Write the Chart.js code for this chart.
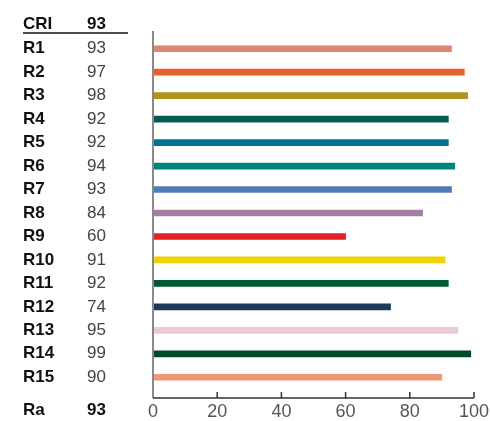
<!DOCTYPE html>
<html>
<head>
<meta charset="utf-8">
<script src="https://cdn.jsdelivr.net/npm/chart.js@4/dist/chart.umd.min.js"></script>
<style>
  html, body { margin: 0; padding: 0; background: #fff; }
  #wrap { width: 490px; height: 421px; position: relative; }
</style>
</head>
<body>
<div id="wrap"><canvas id="cri-chart"></canvas></div>
<script>
// CRI sample values R1..R15
const categories = ['R1', 'R2', 'R3', 'R4', 'R5', 'R6', 'R7', 'R8', 'R9', 'R10', 'R11', 'R12', 'R13', 'R14', 'R15'];
const values = [93, 97, 98, 92, 92, 94, 93, 84, 60, 91, 92, 74, 95, 99, 90];
const barColors = [
  '#dc8573', '#e8612c', '#b0931b', '#055a52', '#00718f',
  '#00847d', '#4e7bb3', '#a57fa3', '#e32227', '#f2d200',
  '#00592f', '#1a3a5c', '#eacad7', '#004a2c', '#f09776',
];
const xTicks = [0, 20, 40, 60, 80, 100];
const criTotal = 93;
const raValue = 93;

const FONT = '"Liberation Sans", Arial, Helvetica, sans-serif';

// draws the left table and the axis lines
const tablePlugin = {
  id: 'criTable',
  afterDraw(chart) {
    const { ctx, chartArea, scales } = chart;
    const xs = scales.x;
    const ys = scales.y;
    const axisY = chartArea.bottom + 9;
    ctx.save();

    // vertical axis line
    ctx.strokeStyle = '#8a8a8a';
    ctx.lineWidth = 2;
    ctx.beginPath();
    ctx.moveTo(chartArea.left, chartArea.top - 6);
    ctx.lineTo(chartArea.left, axisY);
    ctx.stroke();

    // bottom axis line + upward ticks
    ctx.strokeStyle = '#333';
    ctx.lineWidth = 1.5;
    ctx.beginPath();
    ctx.moveTo(chartArea.left, axisY);
    ctx.lineTo(xs.getPixelForValue(100), axisY);
    xTicks.forEach((t) => {
      if (t === 0) return;
      const px = xs.getPixelForValue(t);
      ctx.moveTo(px, axisY);
      ctx.lineTo(px, axisY - 6);
    });
    ctx.stroke();

    // header
    ctx.textBaseline = 'middle';
    ctx.textAlign = 'left';
    ctx.fillStyle = '#111';
    ctx.font = 'bold 17px ' + FONT;
    const headY = chartArea.top - 13;
    ctx.fillText('CRI', 23, headY);
    ctx.fillText(String(criTotal), 87, headY);
    ctx.strokeStyle = '#111';
    ctx.lineWidth = 1.5;
    ctx.beginPath();
    ctx.moveTo(23, chartArea.top - 4);
    ctx.lineTo(128, chartArea.top - 4);
    ctx.stroke();

    // rows
    categories.forEach((cat, i) => {
      const py = ys.getPixelForValue(i);
      ctx.font = 'bold 17px ' + FONT;
      ctx.fillStyle = '#111';
      ctx.fillText(cat, 23, py);
      ctx.font = '17px ' + FONT;
      ctx.fillStyle = '#444';
      ctx.fillText(String(values[i]), 87, py);
    });

    // Ra row
    const raY = axisY + 12;
    ctx.font = 'bold 17px ' + FONT;
    ctx.fillStyle = '#111';
    ctx.fillText('Ra', 23, raY);
    ctx.fillText(String(raValue), 87, raY);

    ctx.restore();
  },
};

new Chart(document.getElementById('cri-chart'), {
  type: 'bar',
  data: {
    labels: categories,
    datasets: [{
      data: values,
      backgroundColor: barColors,
      borderWidth: 0,
      barThickness: 6,
    }],
  },
  options: {
    indexAxis: 'y',
    responsive: true,
    maintainAspectRatio: false,
    animation: false,
    layout: { padding: { left: 153, right: 0, top: 37, bottom: 0 } },
    plugins: {
      legend: { display: false },
      tooltip: { enabled: false },
    },
    scales: {
      x: {
        min: 0,
        max: 100,
        afterBuildTicks(scale) {
          scale.ticks = xTicks.map((v) => ({ value: v }));
        },
        afterFit(scale) {
          scale.height = 32;
          scale.paddingRight = 16;
        },
        grid: { display: false },
        border: { display: false },
        ticks: {
          padding: 4,
          color: '#555',
          font: { family: FONT, size: 18 },
          maxRotation: 0,
        },
      },
      y: {
        display: false,
        grid: { display: false },
      },
    },
  },
  plugins: [tablePlugin],
});
</script>
</body>
</html>
